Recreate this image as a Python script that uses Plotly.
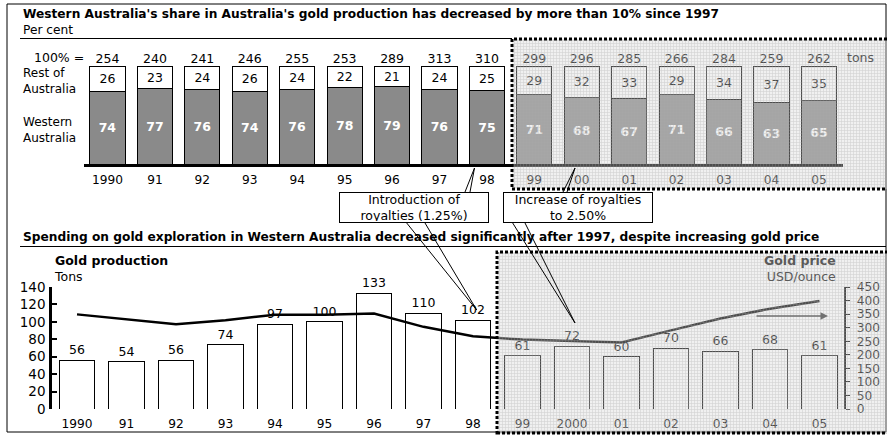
import plotly.graph_objects as go

# ---------------- data ----------------
years_top = ["1990", "91", "92", "93", "94", "95", "96", "97", "98",
             "99", "00", "01", "02", "03", "04", "05"]
totals = [254, 240, 241, 246, 255, 253, 289, 313, 310, 299, 296, 285, 266, 284, 259, 262]
rest_share = [26, 23, 24, 26, 24, 22, 21, 24, 25, 29, 32, 33, 29, 34, 37, 35]
wa_share = [74, 77, 76, 74, 76, 78, 79, 76, 75, 71, 68, 67, 71, 66, 63, 65]

years_bottom = ["1990", "91", "92", "93", "94", "95", "96", "97", "98",
                "99", "2000", "01", "02", "03", "04", "05"]
production = [56, 54, 56, 74, 97, 100, 133, 110, 102, 61, 72, 60, 70, 66, 68, 61]
gold_price = [349, 331, 313, 327, 348, 348, 352, 303, 268, 256, 250, 245, 290, 334, 370, 398]

W, H = 887, 438
FONT = "DejaVu Sans, Arial, sans-serif"
FS = 12.5


def X(px):
    return px / W


def Y(py):
    return 1 - py / H


fig = go.Figure()

# ---------------- top chart ----------------
fig.add_trace(go.Bar(
    x=years_top, y=wa_share, xaxis="x", yaxis="y",
    marker=dict(color="#8a8a8a", line=dict(color="black", width=1)),
    text=wa_share, textposition="inside", insidetextanchor="middle", textangle=0,
    textfont=dict(family=FONT, size=FS, color="white", weight="bold"),
    width=0.74, showlegend=False, hoverinfo="skip"))
fig.add_trace(go.Bar(
    x=years_top, y=rest_share, xaxis="x", yaxis="y",
    marker=dict(color="white", line=dict(color="black", width=1)),
    text=rest_share, textposition="inside", insidetextanchor="middle", textangle=0,
    textfont=dict(family=FONT, size=FS, color="black"),
    width=0.74, showlegend=False, hoverinfo="skip"))
fig.add_trace(go.Scatter(
    x=years_top, y=[100] * len(years_top), xaxis="x", yaxis="y",
    mode="text", text=totals, textposition="top center",
    textfont=dict(family=FONT, size=FS, color="black"),
    showlegend=False, hoverinfo="skip", cliponaxis=False))

# ---------------- bottom chart ----------------
fig.add_trace(go.Bar(
    x=years_bottom, y=production, xaxis="x2", yaxis="y2",
    marker=dict(color="white", line=dict(color="black", width=1)),
    text=production, textposition="outside", textangle=0,
    textfont=dict(family=FONT, size=FS, color="black"),
    width=0.72, showlegend=False, hoverinfo="skip", cliponaxis=False))
fig.add_trace(go.Scatter(
    x=years_bottom, y=gold_price, xaxis="x2", yaxis="y3",
    mode="lines", line=dict(color="black", width=2.5),
    showlegend=False, hoverinfo="skip"))

# ---------------- washed-out (forecast) regions with grid texture ----------------
for (x0, y0, y1) in [(512, 39, 189), (497, 252, 434)]:
    fig.add_trace(go.Scatter(
        x=[x0, 890, 890, x0, x0], y=[y0, y0, y1, y1, y0], xaxis="x3", yaxis="y4",
        mode="none", fill="toself", fillcolor="rgba(214,214,214,0.36)",
        fillpattern=dict(shape="+", size=3, solidity=0.33, fgcolor="#a8a8a8",
                         fgopacity=0.45, fillmode="overlay"),
        showlegend=False, hoverinfo="skip"))

tickfont = dict(family=FONT, size=12.2, color="black")

fig.update_layout(
    width=W, height=H, margin=dict(l=0, r=0, t=0, b=0, pad=0, autoexpand=False),
    paper_bgcolor="white", plot_bgcolor="rgba(0,0,0,0)",
    barmode="stack", font=dict(family=FONT, size=FS, color="black"),
    xaxis=dict(domain=[X(83.8), X(842.6)], type="category", range=[-0.5, 15.5],
               showline=True, linewidth=3, linecolor="black", ticks="",
               showgrid=False, zeroline=False, tickfont=tickfont,
               ticklabelstandoff=2, fixedrange=True, automargin=False),
    yaxis=dict(domain=[Y(164), Y(66)], range=[0, 100], visible=False, fixedrange=True),
    xaxis2=dict(domain=[X(52.25), X(844.25)], type="category", range=[-0.5, 15.5],
                showline=False, ticks="", showgrid=False, zeroline=False,
                tickfont=tickfont, ticklabelstandoff=6, anchor="y2", fixedrange=True,
                automargin=False),
    yaxis2=dict(domain=[Y(409), Y(287)], range=[0, 140], dtick=20,
                showline=True, linewidth=3, linecolor="black",
                ticks="inside", ticklen=5, tickwidth=2, tickcolor="black",
                showgrid=False, zeroline=False, tickfont=dict(family=FONT, size=13.5, color="black"),
                ticklabelstandoff=1, anchor="x2", fixedrange=True, automargin=False),
    yaxis3=dict(overlaying="y2", side="right", range=[0, 450], dtick=50,
                showline=True, linewidth=2, linecolor="black",
                ticks="outside", ticklen=4, tickwidth=1, tickcolor="black",
                showgrid=False, zeroline=False, tickfont=tickfont,
                ticklabelstandoff=4, anchor="x2", fixedrange=True, automargin=False),
    xaxis3=dict(domain=[0, 1], range=[0, W], visible=False, fixedrange=True, anchor="y4"),
    yaxis4=dict(domain=[0, 1], range=[H, 0], visible=False, fixedrange=True, anchor="x3"),
)

shapes = []
# outer frame
shapes.append(dict(type="rect", xref="paper", yref="paper", x0=X(7), x1=X(886), y0=Y(432), y1=Y(4),
                   line=dict(color="black", width=1), layer="below"))
# title rules
shapes.append(dict(type="line", xref="paper", yref="paper", x0=X(20), x1=X(512), y0=Y(38.5), y1=Y(38.5),
                   line=dict(color="black", width=1)))
shapes.append(dict(type="line", xref="paper", yref="paper", x0=X(20), x1=X(886), y0=Y(246.5), y1=Y(246.5),
                   line=dict(color="black", width=1)))
# dotted borders of forecast regions
for (x0, y0, y1) in [(512, 39, 189), (497, 252, 433)]:
    shapes.append(dict(type="rect", xref="paper", yref="paper", x0=X(x0), x1=X(892), y0=Y(y1), y1=Y(y0),
                       fillcolor="rgba(0,0,0,0)", line=dict(color="black", width=3, dash="3px,2px"),
                       layer="above"))
# callout wedges
wedges = [
    ((465, 192), (470, 192), (474.5, 168)),
    ((406.7, 223), (425, 223), (476.7, 310)),
    ((563, 192), (567, 192), (575, 168)),
    ((512.7, 223), (525, 223), (575, 323)),
]
for a, b, apex in wedges:
    for p in (a, b):
        shapes.append(dict(type="line", xref="paper", yref="paper", x0=X(p[0]), y0=Y(p[1]),
                           x1=X(apex[0]), y1=Y(apex[1]), line=dict(color="black", width=1),
                           layer="above"))
fig.update_layout(shapes=shapes)

gray = "#5a5a5a"
ann = []


def txt(x, y, s, size=FS, bold=False, xanchor="left", color="black", align="left"):
    ann.append(dict(xref="paper", yref="paper", x=X(x), y=Y(y), text=s, showarrow=False,
                    xanchor=xanchor, yanchor="middle", align=align,
                    font=dict(family=FONT, size=size, color=color, weight="bold" if bold else "normal")))


txt(21, 21.5, "<b>Western Australia's share in Australia's gold production has decreased by more than 10% since 1997</b>"
    "<br>Per cent", 12.2)
txt(86, 57.5, "100% =", xanchor="right")
txt(21, 80.5, "Rest of<br>Australia", 12)
txt(21, 129.5, "Western<br>Australia", 12)
txt(845, 58, "tons", color=gray)

txt(21, 237, "Spending on gold exploration in Western Australia decreased significantly after 1997, despite increasing gold price", 12.2, True)
txt(52, 268.5, "<b>Gold production</b><br>Tons")
txt(838, 268.5, "<b>Gold price</b><br>USD/ounce", xanchor="right", color=gray, align="right")

# callout boxes
for cx, s in [(414, "Introduction of<br>royalties (1.25%)"), (578, "Increase of royalties<br>to 2.50%")]:
    ann.append(dict(xref="paper", yref="paper", x=X(cx), y=Y(207.5), text=s, showarrow=False,
                    xanchor="center", yanchor="middle", align="center",
                    width=146, height=27, borderpad=1, bordercolor="black", borderwidth=1,
                    bgcolor="white", font=dict(family=FONT, size=FS, color="black")))

# trend arrow
ann.append(dict(xref="paper", yref="paper", x=X(828), y=Y(316), ax=-73, ay=0,
                axref="pixel", ayref="pixel", text="", showarrow=True,
                arrowhead=2, arrowsize=1, arrowwidth=1.5, arrowcolor="#707070"))

fig.update_layout(annotations=ann)

fig.write_html("out.html")
